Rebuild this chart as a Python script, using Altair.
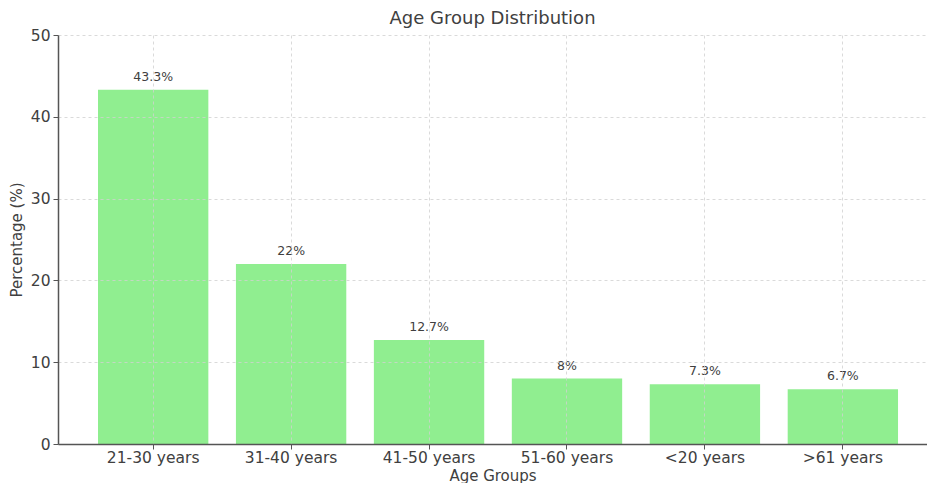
import altair as alt
import pandas as pd

# Share of respondents in each age group (%)
groups = ["21-30 years", "31-40 years", "41-50 years", "51-60 years", "<20 years", ">61 years"]
percent = [43.3, 22.0, 12.7, 8.0, 7.3, 6.7]

df = pd.DataFrame({"group": groups, "pct": percent})
df["label"] = [f"{v:g}%" for v in percent]

FONT = "DejaVu Sans"
TEXT = "#404040"

x_enc = alt.X(
    "group:N",
    sort=None,
    title="Age Groups",
    scale=alt.Scale(paddingInner=0.2, paddingOuter=0.25, align=0.58),
    axis=alt.Axis(
        labelAngle=0,
        labelFontSize=15.5,
        labelColor=TEXT,
        labelPadding=1,
        titleFontSize=15,
        titleColor=TEXT,
        titleFontWeight="normal",
        titlePadding=3,
        tickSize=5,
        tickColor="#555555",
        domainColor="#555555",
        domainWidth=1.5,
        grid=True,
        gridDash=[3, 3],
        gridColor="#d0d0d0",
        gridWidth=0.8,
        bandPosition=0.5,
        zindex=1,
    ),
)

y_enc = alt.Y(
    "pct:Q",
    title="Percentage (%)",
    scale=alt.Scale(domain=[0, 50], nice=False),
    axis=alt.Axis(
        values=[0, 10, 20, 30, 40, 50],
        labelFontSize=15.5,
        labelColor=TEXT,
        labelPadding=3,
        titleFontSize=15,
        titleColor=TEXT,
        titleFontWeight="normal",
        titlePadding=6,
        tickSize=5,
        tickColor="#555555",
        domainColor="#555555",
        domainWidth=1.5,
        grid=True,
        gridDash=[3, 3],
        gridColor="#d0d0d0",
        gridWidth=0.8,
        zindex=1,
    ),
)

bars = alt.Chart(df).mark_bar(color="#90ee90").encode(x=x_enc, y=y_enc)

labels = alt.Chart(df).mark_text(
    baseline="bottom", dy=-6, fontSize=12.5, font=FONT, color=TEXT
).encode(x=alt.X("group:N", sort=None), y="pct:Q", text="label:N")

chart = (
    alt.layer(bars, labels)
    .properties(
        width=869,
        height=409,
        title=alt.TitleParams(
            "Age Group Distribution",
            fontSize=18,
            fontWeight="normal",
            color=TEXT,
            font=FONT,
            anchor="middle",
            offset=0,
        ),
        autosize=alt.AutoSizeParams(type="none"),
        padding={"left": 58, "top": 35, "right": 0, "bottom": 39},
    )
    .configure(font=FONT)
    .configure_view(stroke=None)
)

chart.save("out.html", embed_options={"renderer": "svg", "actions": False})
